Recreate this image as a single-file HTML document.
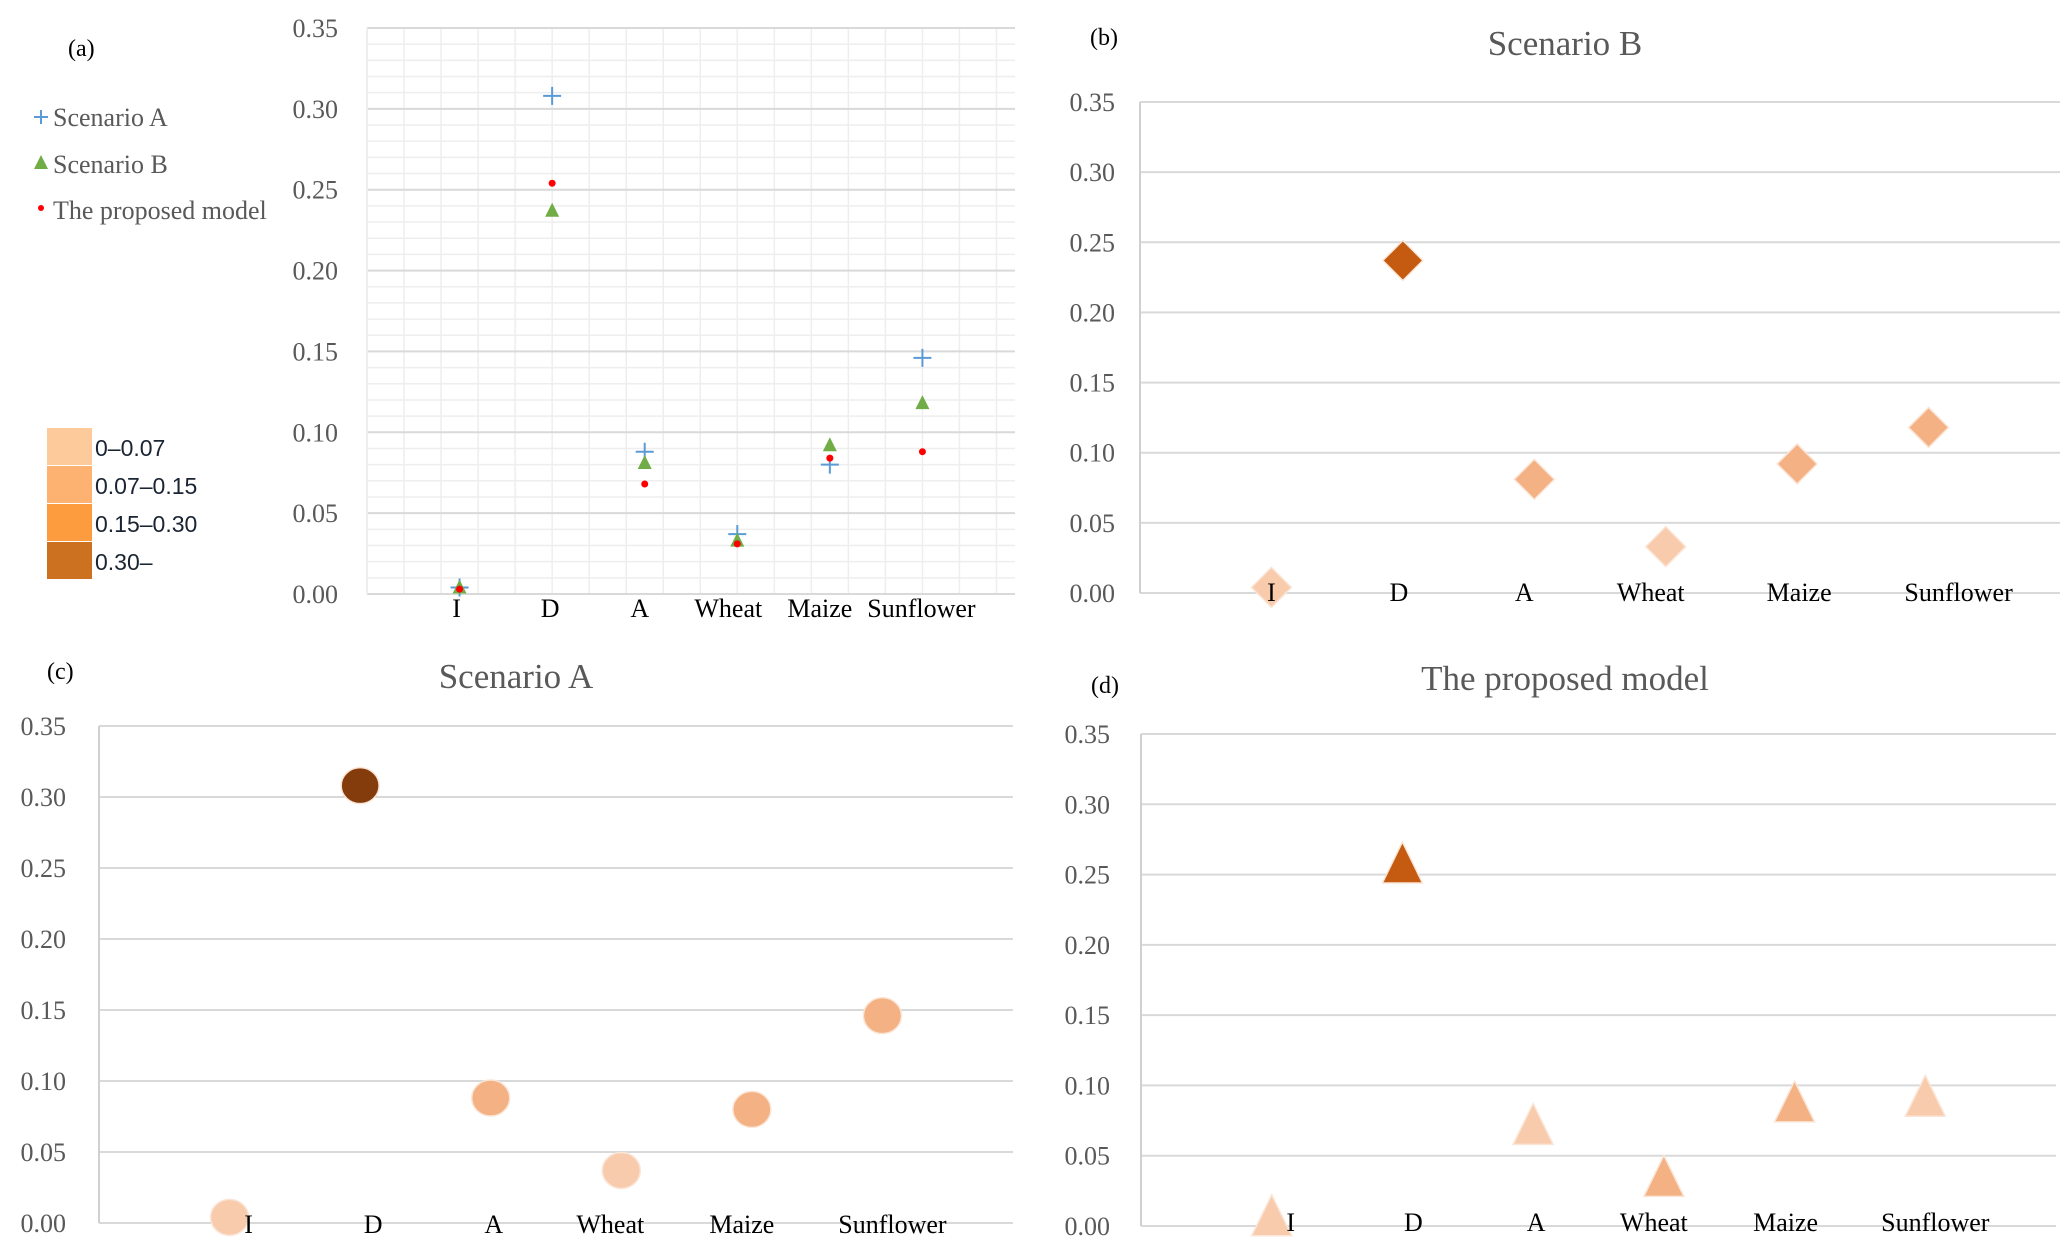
<!DOCTYPE html>
<html><head><meta charset="utf-8"><style>
html,body{margin:0;padding:0;background:#fff;}
svg{display:block;}
text{font-family:"Liberation Serif",serif;}
text.sans{font-family:"Liberation Sans",sans-serif;}
</style></head><body>
<svg id="fig" width="2067" height="1256" viewBox="0 0 2067 1256" xmlns="http://www.w3.org/2000/svg">
</svg>
<script>
const categories = ["I","D","A","Wheat","Maize","Sunflower"];
const yTicks = [0,0.05,0.10,0.15,0.20,0.25,0.30,0.35];
const yTickLabels = ["0.00","0.05","0.10","0.15","0.20","0.25","0.30","0.35"];
const scenarioA = [0.004,0.308,0.088,0.037,0.080,0.146];
const scenarioB = [0.004,0.237,0.081,0.033,0.092,0.118];
const proposed = [0.003,0.254,0.068,0.031,0.084,0.088];
const colorA = ["#f8cbad","#843c0c","#f4b183","#f8cbad","#f4b183","#f4b183"];
const colorB = ["#f8cbad","#c55a11","#f4b183","#f8cbad","#f4b183","#f4b183"];
const colorP = ["#f8cbad","#c55a11","#f8cbad","#f4b183","#f4b183","#f8cbad"];
const legendRanges = ["0–0.07","0.07–0.15","0.15–0.30","0.30–"];
const legendColors = ["#fdca9b","#fdb272","#fd9c3e","#cc7120"];

const NS="http://www.w3.org/2000/svg";
const svg=document.getElementById('fig');
function mk(tag,attrs,parent){const e=document.createElementNS(NS,tag);for(const k in attrs)e.setAttribute(k,attrs[k]);(parent||svg).appendChild(e);return e;}
function txt(s,attrs,parent){const e=mk('text',attrs,parent);e.textContent=s;return e;}

function panel(p){
  const g=mk('g',{});
  
  
  const xs=v=>p.x0+(v/7)*(p.x1-p.x0);
  const ys=v=>p.y0-(v/0.35)*(p.y0-p.y1);
  if(p.minor){
    for(let i=0;i<=35;i++){const y=ys(i*0.01);mk('line',{x1:p.x0,x2:p.x1,y1:y,y2:y,stroke:'#eeeeee','stroke-width':1.5},g);}
    for(let i=0;i<=17;i++){const x=xs(i*0.4);mk('line',{x1:x,x2:x,y1:p.y1,y2:p.y0,stroke:'#eeeeee','stroke-width':1.5},g);}
  }
  yTicks.forEach((t,i)=>{
    const y=ys(t);
    const gl=mk('line',{x1:p.x0,x2:p.x1,y1:y,y2:y,stroke:'#d9d9d9','stroke-width':2},g);
    
    
    const tl=txt(yTickLabels[i],{x:p.lx,y:y+9,'text-anchor':'end','font-size':26,fill:'#595959'},g);
    
    
  });
  const ax=mk('line',{x1:p.x0,x2:p.x0,y1:p.y1,y2:p.y0,stroke:p.minor?'#eeeeee':'#d0d0d0','stroke-width':2},g);
  
  
  if(p.title){const t=txt(p.title,{x:p.tx,y:p.ty,'text-anchor':'middle','font-size':35,fill:'#595959'},g);
    }
  const lb=txt(p.label,{x:p.px,y:p.py,'font-size':24,fill:'#000'},g);
  
  
  const marks=mk('g',{},g);
  function labels(){
    categories.forEach((c,i)=>{
      const cl=txt(c,{x:xs(i+1)+p.lo[i],y:p.cy,'text-anchor':'middle','font-size':26,fill:'#000'},g);
      
      
    });
  }
  return {g:marks,xs,ys,labels};
}

// Panel (a)
const a=panel({name:'panel-a',x0:367,x1:1015,y0:594,y1:28,lx:338,cy:617,lo:[-3,-2,-5,-9,-10,-1],label:'(a)',px:68,py:56,minor:true});
scenarioA.forEach((v,i)=>{const x=a.xs(i+1),y=a.ys(v);
  const m=mk('path',{d:`M${x-9},${y}H${x+9}M${x},${y-9}V${y+9}`,stroke:'#5b9bd5','stroke-width':2,fill:'none'},a.g);
  });
scenarioB.forEach((v,i)=>{const x=a.xs(i+1),y=a.ys(v);
  const m=mk('path',{d:`M${x},${y-8}L${x+7},${y+6}L${x-7},${y+6}Z`,fill:'#70ad47'},a.g);
  });
proposed.forEach((v,i)=>{const x=a.xs(i+1),y=a.ys(v);
  const m=mk('circle',{cx:x,cy:y,r:3.5,fill:'#ff0000'},a.g);
  });
a.labels();
// legend (a)
const lg=mk('g',{});


mk('path',{d:'M34,117H48M41,110V124',stroke:'#5b9bd5','stroke-width':2},lg);
txt('Scenario A',{x:53,y:126,'font-size':26,fill:'#595959'},lg);
mk('path',{d:'M41,155L48,169L34,169Z',fill:'#70ad47'},lg);
txt('Scenario B',{x:53,y:173,'font-size':26,fill:'#595959'},lg);
mk('circle',{cx:41,cy:208,r:3,fill:'#ff0000'},lg);
txt('The proposed model',{x:53,y:219,'font-size':26,fill:'#595959'},lg);
const cl=mk('g',{});


legendRanges.forEach((r,i)=>{
  const y=428+i*38;
  const b=mk('rect',{x:47,y:y,width:45,height:37,fill:legendColors[i]},cl);
  
  const t=txt(r,{x:95,y:y+28,'font-size':23,fill:'#1a2433','class':'sans',style:'font-family:"Liberation Sans",sans-serif'},cl);
  
});

// Panel (b)
const b=panel({name:'panel-b',x0:1140,x1:2060,y0:593,y1:102,lx:1115,cy:601,lo:[0,-4,-10,-15,2,30],label:'(b)',px:1090,py:45,title:'Scenario B',tx:1565,ty:55});
scenarioB.forEach((v,i)=>{const x=b.xs(i+1),y=b.ys(v);
  const m=mk('path',{d:`M${x},${y-20}L${x+20},${y}L${x},${y+20}L${x-20},${y}Z`,fill:colorB[i],stroke:'#fbe5d6','stroke-width':1.5},b.g);
  });
b.labels();

// Panel (c)
const c=panel({name:'panel-c',x0:99,x1:1013,y0:1223,y1:726,lx:66,cy:1233,lo:[19,13,3,-11,-10,10],label:'(c)',px:47,py:679,title:'Scenario A',tx:516,ty:688});
scenarioA.forEach((v,i)=>{const x=c.xs(i+1),y=c.ys(v);
  const m=mk('ellipse',{cx:x,cy:y,rx:19,ry:18,fill:colorA[i],stroke:'#fbe5d6','stroke-width':1.5},c.g);
  });
c.labels();

// Panel (d)
const d=panel({name:'panel-d',x0:1141,x1:2056,y0:1226,y1:734,lx:1110,cy:1231,lo:[19,11,3,-10,-9,10],label:'(d)',px:1091,py:693,title:'The proposed model',tx:1565,ty:690});
proposed.forEach((v,i)=>{const x=d.xs(i+1),y=d.ys(v);
  const m=mk('path',{d:`M${x},${y-27}L${x+20},${y+14}L${x-20},${y+14}Z`,fill:colorP[i],stroke:'#fbe5d6','stroke-width':1.5},d.g);
  });
d.labels();
</script>
</body></html>
